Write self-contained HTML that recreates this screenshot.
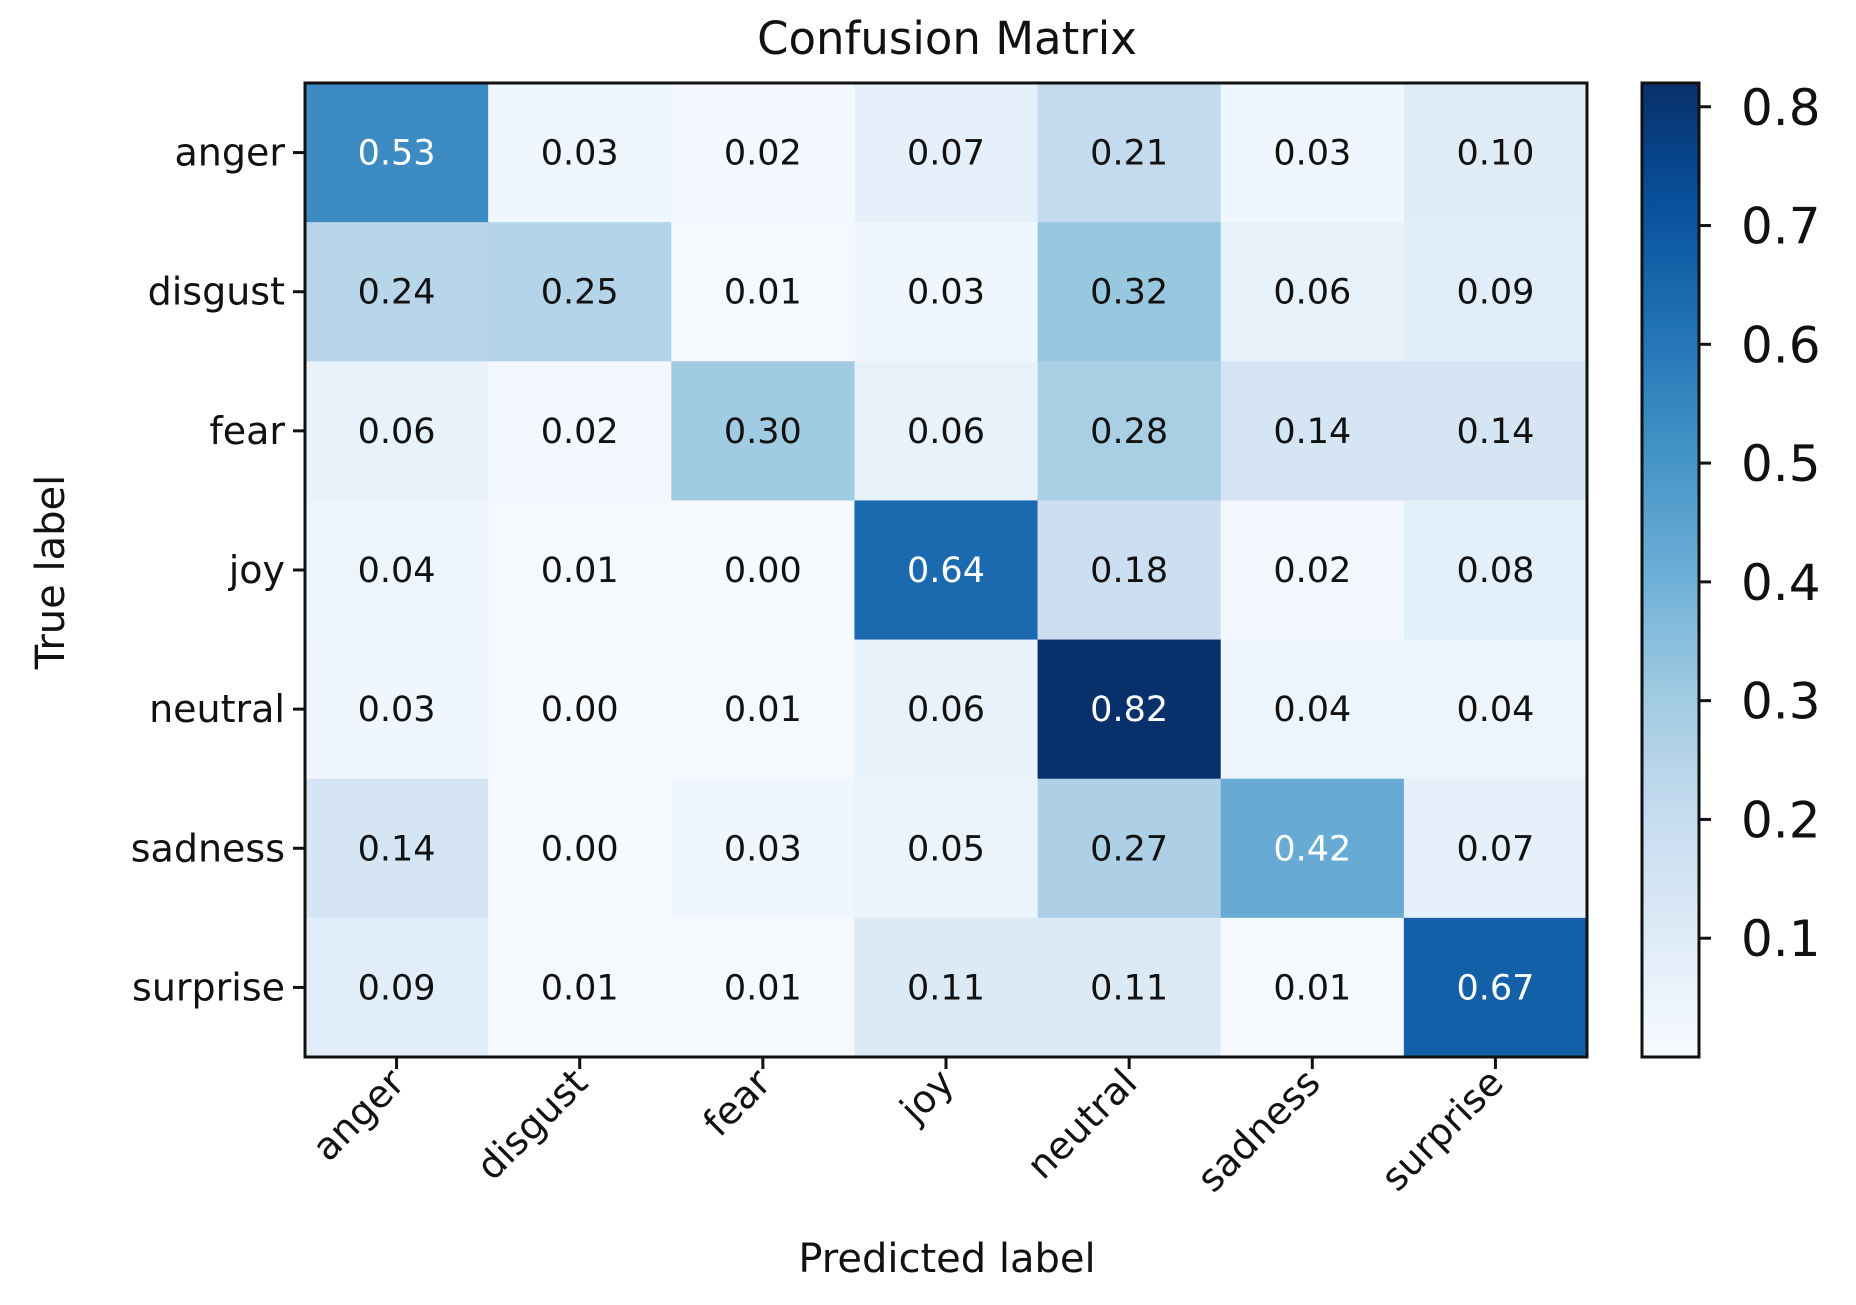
<!DOCTYPE html>
<html><head><meta charset="utf-8"><style>
html,body{margin:0;padding:0;background:#fff;}
svg{display:block;font-family:"DejaVu Sans","Liberation Sans",sans-serif;}
</style></head><body>
<svg id="chart" width="1856" height="1305" viewBox="0 0 1856 1305" xmlns="http://www.w3.org/2000/svg">
<text x="947" y="54" text-anchor="middle" font-size="45" fill="#111">Confusion Matrix</text>
<g id="cells"></g>
<g id="axes"></g>
<text transform="translate(64,572) rotate(-90)" text-anchor="middle" font-size="40" fill="#111">True label</text>
<text x="947" y="1272" text-anchor="middle" font-size="40" fill="#111">Predicted label</text>
<defs><linearGradient id="cbar" x1="0" y1="1" x2="0" y2="0">
<stop offset="0" stop-color="#f7fbff"/><stop offset="0.125" stop-color="#deebf7"/><stop offset="0.25" stop-color="#c6dbef"/><stop offset="0.375" stop-color="#9ecae1"/><stop offset="0.5" stop-color="#6baed6"/><stop offset="0.625" stop-color="#4292c6"/><stop offset="0.75" stop-color="#2171b5"/><stop offset="0.875" stop-color="#08519c"/><stop offset="1" stop-color="#08306b"/>
</linearGradient></defs>
<g id="colorbar"></g>
</svg>
<script>
const labels = ["anger","disgust","fear","joy","neutral","sadness","surprise"];
const row0 = [0.53,0.03,0.02,0.07,0.21,0.03,0.10];
const row1 = [0.24,0.25,0.01,0.03,0.32,0.06,0.09];
const row2 = [0.06,0.02,0.30,0.06,0.28,0.14,0.14];
const row3 = [0.04,0.01,0.00,0.64,0.18,0.02,0.08];
const row4 = [0.03,0.00,0.01,0.06,0.82,0.04,0.04];
const row5 = [0.14,0.00,0.03,0.05,0.27,0.42,0.07];
const row6 = [0.09,0.01,0.01,0.11,0.11,0.01,0.67];
const matrix = [row0,row1,row2,row3,row4,row5,row6];
const cbarTicks = [0.1,0.2,0.3,0.4,0.5,0.6,0.7,0.8];

const NS="http://www.w3.org/2000/svg";
const L=305,R=1587,T=83,B=1057;
const n=labels.length, cw=(R-L)/n, ch=(B-T)/n;
let vmin=Infinity,vmax=-Infinity;
matrix.forEach(r=>r.forEach(v=>{vmin=Math.min(vmin,v);vmax=Math.max(vmax,v);}));
const stops=["#f7fbff","#deebf7","#c6dbef","#9ecae1","#6baed6","#4292c6","#2171b5","#08519c","#08306b"].map(h=>[parseInt(h.slice(1,3),16),parseInt(h.slice(3,5),16),parseInt(h.slice(5,7),16)]);
function color(v){let t=(v-vmin)/(vmax-vmin);t=Math.max(0,Math.min(1,t))*8;const i=Math.min(7,Math.floor(t)),f=t-i;const a=stops[i],b=stops[i+1];return `rgb(${a.map((c,k)=>Math.round(c+(b[k]-c)*f)).join(",")})`;}
function mk(tag,attrs,parent){const e=document.createElementNS(NS,tag);for(const k in attrs)e.setAttribute(k,attrs[k]);parent.appendChild(e);return e;}
const xs=j=>L+cw*j, ys=i=>T+ch*i;
const cells=document.getElementById('cells');
matrix.forEach((row,i)=>row.forEach((v,j)=>{
  const r=mk('rect',{x:xs(j),y:ys(i),width:cw+0.5,height:ch+0.5,fill:color(v)},cells);
  
  
  const t=mk('text',{x:xs(j)+cw/2,y:ys(i)+ch/2+12,'text-anchor':'middle','font-size':35,fill:v>(vmax+vmin)/2?'#fff':'#111'},cells);
  
  
  t.textContent=v.toFixed(2);
}));
const axes=document.getElementById('axes');
const fr=mk('rect',{x:L,y:T,width:R-L,height:B-T,fill:'none',stroke:'#111','stroke-width':3},axes);


labels.forEach((lab,i)=>{
  const y=ys(i)+ch/2;
  mk('line',{x1:L-12,x2:L,y1:y,y2:y,stroke:'#111','stroke-width':3},axes);
  const t=mk('text',{x:L-20,y:y+13,'text-anchor':'end','font-size':38,fill:'#111'},axes);
  
  
  t.textContent=lab;
  const x=xs(i)+cw/2;
  mk('line',{x1:x,x2:x,y1:B,y2:B+12,stroke:'#111','stroke-width':3},axes);
  const tx=mk('text',{transform:`translate(${x+10},${B+28}) rotate(-45)`,'text-anchor':'end','font-size':38,fill:'#111'},axes);
  
  
  tx.textContent=lab;
});
const cb=document.getElementById('colorbar');
const CL=1642,CR=1699;
const cy=v=>B-(v-vmin)/(vmax-vmin)*(B-T);
mk('rect',{x:CL,y:T,width:CR-CL,height:B-T,fill:'url(#cbar)',stroke:'#111','stroke-width':3},cb);
cbarTicks.forEach(v=>{
  const y=cy(v);
  mk('line',{x1:CR,x2:CR+12,y1:y,y2:y,stroke:'#111','stroke-width':3},cb);
  const t=mk('text',{x:CR+42,y:y+18,'font-size':50,fill:'#111'},cb);
  
  
  t.textContent=v.toFixed(1);
});
</script>
</body></html>
